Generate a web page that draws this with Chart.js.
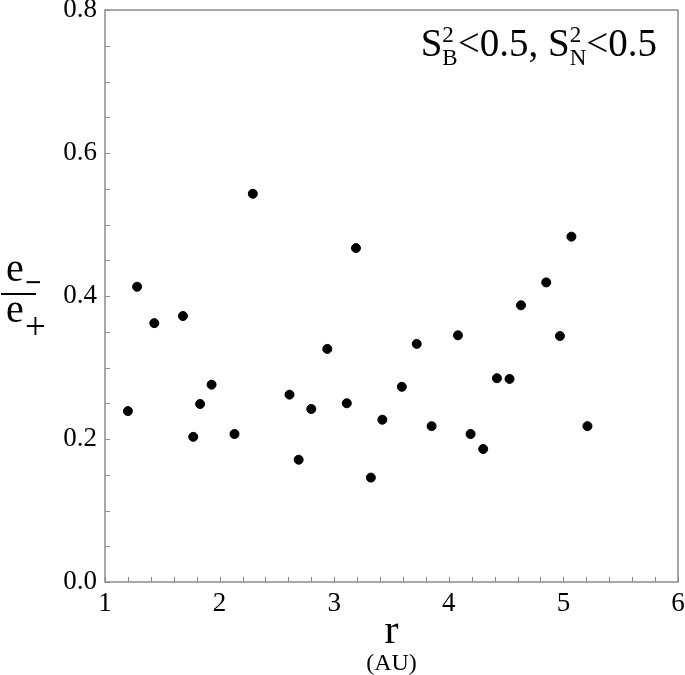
<!DOCTYPE html>
<html>
<head>
<meta charset="utf-8">
<script src="https://cdn.jsdelivr.net/npm/chart.js@4.4.1/dist/chart.umd.min.js"></script>
<style>
  body { margin: 0; background: #fff; }
  #wrap { width: 685px; height: 675px; }
</style>
</head>
<body>
<div id="wrap"><canvas id="scatterChart" width="685" height="675"></canvas></div>
<script>
// distance r (AU) and ratio e-/e+
const rValues = [1.20, 1.28, 1.43, 1.68, 1.77, 1.83, 1.93, 2.13, 2.29, 2.61,
                 2.69, 2.80, 2.94, 3.11, 3.19, 3.32, 3.42, 3.59, 3.72, 3.85,
                 4.08, 4.19, 4.30, 4.42, 4.53, 4.63, 4.85, 4.97, 5.07, 5.21];
const ratioValues = [0.239, 0.413, 0.362, 0.372, 0.203, 0.249, 0.276, 0.207, 0.543, 0.262,
                     0.171, 0.242, 0.326, 0.250, 0.467, 0.146, 0.227, 0.273, 0.333, 0.218,
                     0.345, 0.207, 0.186, 0.285, 0.284, 0.387, 0.419, 0.344, 0.483, 0.218];
const xTicks = [1, 2, 3, 4, 5, 6];
const yTicks = [0.0, 0.2, 0.4, 0.6, 0.8];
const annotation = { s1: 'S', sup: '2', sub1: 'B', mid: '<0.5, S', sub2: 'N', end: '<0.5' };

const SERIF = '"Liberation Serif", "DejaVu Serif", serif';
const axisGray = '#8c8c8c';

const points = rValues.map((r, i) => ({ x: r, y: ratioValues[i] }));

const framePlugin = {
  id: 'frame',
  afterDraw(chart) {
    const { ctx, chartArea: a, scales } = chart;
    const xs = scales.x, ys = scales.y;
    ctx.save();
    // box
    ctx.strokeStyle = axisGray;
    ctx.lineWidth = 1.5;
    ctx.strokeRect(a.left, a.top, a.right - a.left, a.bottom - a.top);
    // inward ticks, every 0.2 on x and 0.05 on y
    ctx.lineWidth = 1;
    ctx.beginPath();
    for (let v = 1; v <= 6.001; v += 0.2) {
      const px = Math.round(xs.getPixelForValue(v)) + 0.5;
      ctx.moveTo(px, a.bottom);
      ctx.lineTo(px, a.bottom - 5);
    }
    for (let v = 0; v <= 0.8001; v += 0.05) {
      const py = Math.round(ys.getPixelForValue(v)) + 0.5;
      ctx.moveTo(a.left, py);
      ctx.lineTo(a.left + 5, py);
    }
    ctx.stroke();

    // x title
    ctx.fillStyle = '#000';
    ctx.textAlign = 'center';
    ctx.textBaseline = 'alphabetic';
    const cx = (a.left + a.right) / 2;
    ctx.font = '42px ' + SERIF;
    ctx.fillText('r', cx, 643);
    ctx.font = '24px ' + SERIF;
    ctx.fillText('(AU)', cx, 670);

    // y title: e- over e+
    ctx.textAlign = 'left';
    ctx.font = '40px ' + SERIF;
    ctx.fillText('e', 6, 281);
    ctx.fillText('e', 6, 322);
    ctx.font = 'bold 29px ' + SERIF;
    ctx.fillText('\u2212', 25, 292);
    ctx.font = '37px ' + SERIF;
    ctx.fillText('+', 25, 339);
    ctx.fillRect(1, 293, 35, 2);

    // condition label, top right
    const base = 56;
    const parts = [
      { t: annotation.s1, f: '39px ', dy: 0 },
      { t: annotation.sup, f: '23px ', dy: -14, sub: annotation.sub1 },
      { t: annotation.mid, f: '39px ', dy: 0 },
      { t: annotation.sup, f: '23px ', dy: -14, sub: annotation.sub2 },
      { t: annotation.end, f: '39px ', dy: 0 }
    ];
    let total = 0;
    parts.forEach(p => {
      ctx.font = p.f + SERIF;
      let w = ctx.measureText(p.t).width;
      if (p.sub) { w = Math.max(w, ctx.measureText(p.sub).width); }
      p.w = w;
      total += p.w;
    });
    let x = 657 - total;
    parts.forEach(p => {
      ctx.font = p.f + SERIF;
      ctx.fillText(p.t, x, base + p.dy);
      if (p.sub) ctx.fillText(p.sub, x, base + 9);
      x += p.w;
    });
    ctx.restore();
  }
};

const ctx = document.getElementById('scatterChart');
new Chart(ctx, {
  type: 'scatter',
  data: {
    datasets: [{
      data: points,
      backgroundColor: '#000',
      borderColor: '#000',
      pointRadius: 4.5,
      pointHoverRadius: 4.5
    }]
  },
  options: {
    responsive: false,
    animation: false,
    layout: { padding: { top: 10, right: 7, left: 0, bottom: 0 } },
    plugins: { legend: { display: false }, tooltip: { enabled: false } },
    scales: {
      x: {
        type: 'linear',
        min: 1, max: 6,
        afterBuildTicks: s => { s.ticks = xTicks.map(v => ({ value: v })); },
        ticks: {
          padding: 6,
          color: '#000',
          font: { family: SERIF, size: 27 },
          maxRotation: 0,
          callback: v => String(v)
        },
        grid: { display: false, drawTicks: false },
        border: { display: false },
        afterFit: s => { s.height = 93; s.paddingLeft = 0; s.paddingRight = 0; }
      },
      y: {
        type: 'linear',
        min: 0, max: 0.8,
        afterBuildTicks: s => { s.ticks = yTicks.map(v => ({ value: v })); },
        ticks: {
          padding: 8,
          color: '#000',
          font: { family: SERIF, size: 27 },
          callback: v => Number(v).toFixed(1)
        },
        grid: { display: false, drawTicks: false },
        border: { display: false },
        afterFit: s => { s.width = 105; s.paddingTop = 0; s.paddingBottom = 0; }
      }
    }
  },
  plugins: [framePlugin]
});
</script>
</body>
</html>
